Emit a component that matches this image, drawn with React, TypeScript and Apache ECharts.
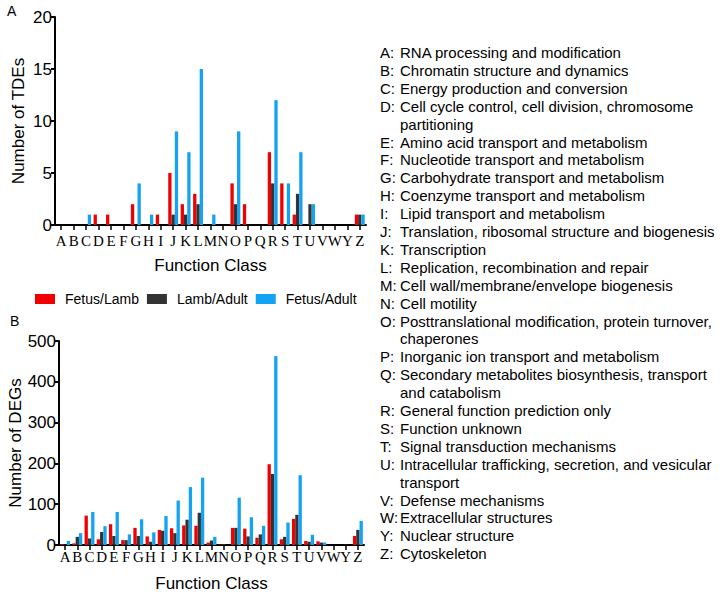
import React, { useEffect, useRef } from "react";
import * as echarts from "echarts";

const categories = ["A","B","C","D","E","F","G","H","I","J","K","L","M","N","O","P","Q","R","S","T","U","V","W","Y","Z"];
const seriesNames = ["Fetus/Lamb", "Lamb/Adult", "Fetus/Adult"];
const colors = ["#f00000", "#333333", "#14a2f2"];

// Panel A: Number of TDEs
const tdeFetusLamb = [0,0,0,1,1,0,2,0,1,5,2,3,0,0,4,2,0,7,4,1,0,0,0,0,1];
const tdeLambAdult = [0,0,0,0,0,0,0,0,0,1,1,2,0,0,2,0,0,4,0,3,2,0,0,0,1];
const tdeFetusAdult = [0,0,1,0,0,0,4,1,0,9,7,15,1,0,9,0,0,12,4,7,2,0,0,0,1];

// Panel B: Number of DEGs
const degFetusLamb = [2,4,72,14,51,12,42,21,37,41,48,47,6,1,42,40,18,198,14,64,10,9,0,0,22];
const degLambAdult = [1,20,16,32,22,12,22,8,35,29,62,79,11,2,42,21,26,174,20,74,8,6,0,1,37];
const degFetusAdult = [10,29,81,46,81,26,63,31,71,109,142,165,20,0,116,68,47,463,55,171,25,6,0,0,59];

const tdeTicks = { min: 0, max: 20, interval: 5 };
const degTicks = { min: 0, max: 500, interval: 100 };

const cogLegend: [string, string[]][] = [
  ["A", ["RNA processing and modification"]],
  ["B", ["Chromatin structure and dynamics"]],
  ["C", ["Energy production and conversion"]],
  ["D", ["Cell cycle control, cell division, chromosome", "partitioning"]],
  ["E", ["Amino acid transport and metabolism"]],
  ["F", ["Nucleotide transport and metabolism"]],
  ["G", ["Carbohydrate transport and metabolism"]],
  ["H", ["Coenzyme transport and metabolism"]],
  ["I", ["Lipid transport and metabolism"]],
  ["J", ["Translation, ribosomal structure and biogenesis"]],
  ["K", ["Transcription"]],
  ["L", ["Replication, recombination and repair"]],
  ["M", ["Cell wall/membrane/envelope biogenesis"]],
  ["N", ["Cell motility"]],
  ["O", ["Posttranslational modification, protein turnover,", "chaperones"]],
  ["P", ["Inorganic ion transport and metabolism"]],
  ["Q", ["Secondary metabolites biosynthesis, transport", "and catabolism"]],
  ["R", ["General function prediction only"]],
  ["S", ["Function unknown"]],
  ["T", ["Signal transduction mechanisms"]],
  ["U", ["Intracellular trafficking, secretion, and vesicular", "transport"]],
  ["V", ["Defense mechanisms"]],
  ["W", ["Extracellular structures"]],
  ["Y", ["Nuclear structure"]],
  ["Z", ["Cytoskeleton"]],
];

const SANS = "'Liberation Sans', Arial, sans-serif";
const SERIF = "'Liberation Serif', 'Times New Roman', serif";

export default function App() {
  const ref = useRef<HTMLDivElement>(null);
  useEffect(() => {
    if (!ref.current) return;
    const chart = echarts.init(ref.current, null, { renderer: "svg" });

    const graphics: any[] = [
      { type: "text", left: 7, top: 4, style: { text: "A", font: `14px ${SANS}`, fill: "#000" } },
      { type: "text", left: 10, top: 314, style: { text: "B", font: `14px ${SANS}`, fill: "#000" } },
    ];
    let line = 0;
    const lineH = 17.9;
    const y0 = 52.5;
    cogLegend.forEach(([letter, lines]) => {
      graphics.push({
        type: "text",
        x: 380,
        y: y0 + line * lineH,
        style: { text: letter + ":", font: `15px ${SANS}`, fill: "#000", verticalAlign: "middle", align: "left" },
      });
      lines.forEach((t) => {
        graphics.push({
          type: "text",
          x: 400,
          y: y0 + line * lineH,
          style: { text: t, font: `15px ${SANS}`, fill: "#000", verticalAlign: "middle", align: "left" },
        });
        line++;
      });
    });

    const axisLine = { show: true, lineStyle: { color: "#000", width: 2 } };
    const makeX = (gridIndex: number, fontSize: number, margin: number, nameGap: number) => ({
      type: "category",
      gridIndex,
      data: categories,
      name: "Function Class",
      nameLocation: "middle",
      nameGap,
      nameTextStyle: { fontFamily: SANS, fontSize: 17, color: "#000" },
      axisLine,
      axisTick: { show: true, alignWithLabel: true, length: 5, lineStyle: { color: "#000", width: 1.5 } },
      axisLabel: { interval: 0, fontFamily: SERIF, fontSize, color: "#000", margin },
      splitLine: { show: false },
    });
    const makeY = (gridIndex: number, name: string, ticks: any, nameGap: number) => ({
      type: "value",
      gridIndex,
      ...ticks,
      name,
      nameLocation: "middle",
      nameGap,
      nameTextStyle: { fontFamily: SANS, fontSize: 17, color: "#000" },
      axisLine,
      axisTick: { show: true, length: 4, lineStyle: { color: "#000", width: 2 } },
      axisLabel: { fontFamily: SANS, fontSize: 17, color: "#000", margin: 3 },
      splitLine: { show: false },
    });

    const bar = (name: string, data: number[], idx: number, color: string) => ({
      type: "bar",
      name,
      data,
      xAxisIndex: idx,
      yAxisIndex: idx,
      barWidth: 3.3,
      barGap: "0%",
      itemStyle: { color },
    });

    chart.setOption({
      animation: false,
      backgroundColor: "#fff",
      textStyle: { fontFamily: SANS },
      grid: [
        { left: 55, top: 17, width: 311, height: 208 },
        { left: 59, top: 341, width: 305, height: 204 },
      ],
      legend: {
        left: 30,
        top: 287,
        itemWidth: 20,
        itemGap: 8,
        itemHeight: 10,
        icon: "rect",
        data: seriesNames,
        textStyle: { fontFamily: SANS, fontSize: 14, color: "#000", padding: [0, 0, 0, 5] },
      },
      xAxis: [makeX(0, 15, 8, 32), makeX(1, 15, 4, 30)],
      yAxis: [makeY(0, "Number of TDEs", tdeTicks, 28), makeY(1, "Number of DEGs", degTicks, 34)],
      series: [
        bar(seriesNames[0], tdeFetusLamb, 0, colors[0]),
        bar(seriesNames[1], tdeLambAdult, 0, colors[1]),
        bar(seriesNames[2], tdeFetusAdult, 0, colors[2]),
        bar(seriesNames[0], degFetusLamb, 1, colors[0]),
        bar(seriesNames[1], degLambAdult, 1, colors[1]),
        bar(seriesNames[2], degFetusAdult, 1, colors[2]),
      ],
      graphic: graphics,
    });
    return () => chart.dispose();
  }, []);
  return (
    <div
      ref={ref}
      style={{ position: "absolute", left: 0, top: 0, width: 720, height: 595, background: "#fff" }}
    />
  );
}
